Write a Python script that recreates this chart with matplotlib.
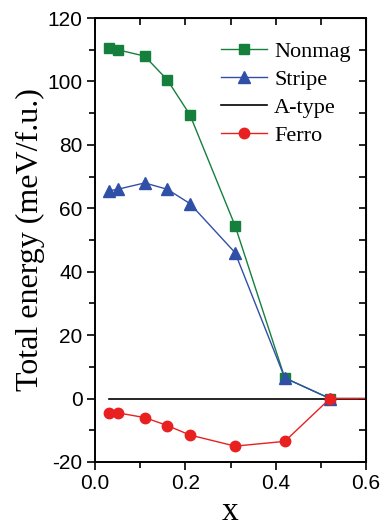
import matplotlib
matplotlib.use('Agg')
import matplotlib.pyplot as plt
from matplotlib.ticker import MultipleLocator

plt.rcParams['axes.unicode_minus'] = False

# doping x values
x = [0.03, 0.05, 0.11, 0.16, 0.21, 0.31, 0.42, 0.52, 0.7]
nonmag = [110.5, 110.0, 108.0, 100.5, 89.5, 54.5, 6.5, 0.0, 0.0]
stripe = [65.5, 66.0, 68.0, 66.0, 61.5, 46.0, 6.5, 0.0, 0.0]
atype_x = [0.03, 0.7]
atype = [0.0, 0.0]
ferro = [-4.5, -4.5, -6.0, -8.5, -11.5, -15.0, -13.5, 0.0, 0.0]

serif = 'Liberation Serif'
sans = 'Liberation Sans'

fig = plt.figure(figsize=(3.83, 5.31), dpi=100)
ax = fig.add_axes([0.248, 0.130, 0.708, 0.836])

ax.plot(x, nonmag, color='#14803c', marker='s', ms=6.5, lw=1, label='Nonmag')
ax.plot(x, stripe, color='#3050a8', marker='^', ms=8, lw=1, label='Stripe')
ax.plot(atype_x, atype, color='black', lw=1.2, label='A-type')
ax.plot(x, ferro, color='#e82020', marker='o', ms=7.5, lw=1, label='Ferro')

ax.set_xlim(0, 0.6)
ax.set_ylim(-20, 120)
ax.xaxis.set_major_locator(MultipleLocator(0.2))
ax.xaxis.set_minor_locator(MultipleLocator(0.1))
ax.yaxis.set_major_locator(MultipleLocator(20))
ax.yaxis.set_minor_locator(MultipleLocator(10))
ax.tick_params(which='both', direction='out', top=False, right=False, width=1.2)
ax.tick_params(which='major', length=6, labelsize=15, pad=3)
ax.tick_params(which='minor', length=4)
for lab in ax.get_xticklabels() + ax.get_yticklabels():
    lab.set_fontfamily(sans)

# mirrored inward ticks on top and right
sec_x = ax.secondary_xaxis('top')
sec_x.xaxis.set_major_locator(MultipleLocator(0.1))
sec_x.tick_params(which='both', direction='in', labeltop=False, width=1.2, length=5)
sec_y = ax.secondary_yaxis('right')
sec_y.yaxis.set_major_locator(MultipleLocator(10))
sec_y.tick_params(which='both', direction='in', labelright=False, width=1.2, length=5)

for sp in ax.spines.values():
    sp.set_linewidth(1.4)

ax.set_xlabel('x', fontfamily=serif, fontsize=24, labelpad=2)
ax.set_ylabel('Total energy (meV/f.u.)', fontfamily=serif, fontsize=23, labelpad=2)

ax.legend(loc='upper right', frameon=False, prop={'family': serif, 'size': 16},
          handlelength=2.1, handletextpad=0.3, labelspacing=0.33,
          borderaxespad=0.3, bbox_to_anchor=(1.0, 0.982))

fig.savefig('out.png', dpi=100)
